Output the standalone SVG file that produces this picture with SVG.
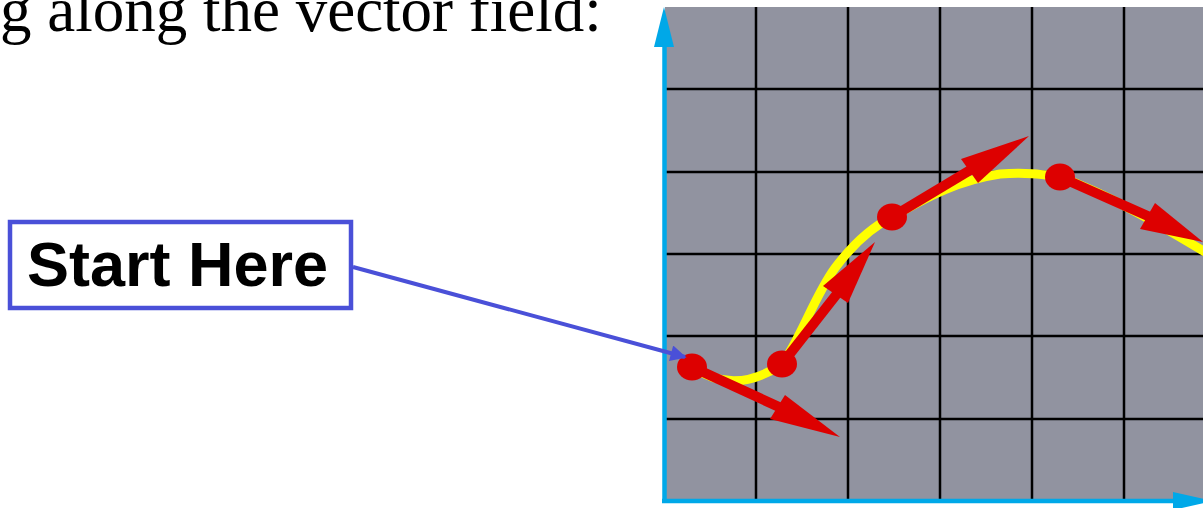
<svg xmlns="http://www.w3.org/2000/svg" width="1203" height="508" viewBox="0 0 1203 508">
<style>
.title{font-family:"Liberation Serif","Times New Roman",serif;font-size:63px;fill:#000}
.lbl{font-family:"Liberation Sans",Arial,sans-serif;font-weight:bold;font-size:63px;fill:#000}
.grid{stroke:#000;stroke-width:2.5;fill:none}
.axis{stroke:#00a8e8;stroke-width:4.5;fill:none}
.axhead{fill:#00a8e8}
.shaft{stroke:#dd0000;stroke-width:10;fill:none}
.head{fill:#dd0000}
.dot{fill:#dd0000}
.path{stroke:#ffff00;stroke-width:9;fill:none}
.box{fill:#fff;stroke:#4a50d8;stroke-width:4.5}
.conn{stroke:#4a50d8;stroke-width:4;fill:none}
</style>
<defs>
<marker id="bh" viewBox="0 0 10 10" refX="9" refY="5" markerWidth="4.5" markerHeight="4" markerUnits="strokeWidth" orient="auto">
<path d="M0,0 L10,5 L0,10 z" fill="#4a50d8"/>
</marker>
</defs>
<rect width="1203" height="508" fill="#fff"/>
<text class="title" x="0" y="31">g along the vector field:</text>
<g id="chart">
<rect x="665" y="7" width="545" height="494" fill="#9193a0"/>
<g class="grid">
<line x1="756" y1="7" x2="756" y2="501"/>
<line x1="848" y1="7" x2="848" y2="501"/>
<line x1="940" y1="7" x2="940" y2="501"/>
<line x1="1032" y1="7" x2="1032" y2="501"/>
<line x1="1124" y1="7" x2="1124" y2="501"/>
<line x1="665" y1="89" x2="1210" y2="89"/>
<line x1="665" y1="172" x2="1210" y2="172"/>
<line x1="665" y1="254" x2="1210" y2="254"/>
<line x1="665" y1="336" x2="1210" y2="336"/>
<line x1="665" y1="419" x2="1210" y2="419"/>
</g>
<line class="axis" x1="664.5" y1="40" x2="664.5" y2="503"/>
<line class="axis" x1="662" y1="501" x2="1180" y2="501"/>
<polygon class="axhead" points="664,7 654,47 674,47"/>
<polygon class="axhead" points="1213,501 1173,492 1173,510"/>
<path class="path" d="M692,367 Q735,396 782,364 C800,340 815,295 835,268 C850,248 870,228 892,217 C930,195 960,180 1000,174 C1030,172 1045,175 1060,177 C1110,195 1160,225 1210,255"/>
</g>
<g id="vec1">
<line class="shaft" x1="692" y1="367" x2="790" y2="412"/>
<polygon class="head" points="840,437 785,395 770,419"/>
<ellipse class="dot" cx="692" cy="367" rx="15" ry="13.5"/>
</g>
<g id="vec2">
<line class="shaft" x1="782" y1="364" x2="840" y2="290"/>
<polygon class="head" points="875,242 823,286 848,303"/>
<ellipse class="dot" cx="782" cy="364" rx="15" ry="13.5"/>
</g>
<g id="vec3">
<line class="shaft" x1="892" y1="217" x2="972" y2="169"/>
<polygon class="head" points="1029,136 961,159 978,183"/>
<ellipse class="dot" cx="892" cy="217" rx="15" ry="13.5"/>
</g>
<g id="vec4">
<line class="shaft" x1="1060" y1="177" x2="1150" y2="217"/>
<polygon class="head" points="1203,242 1155,203 1140,229"/>
<ellipse class="dot" cx="1060" cy="177" rx="15" ry="13.5"/>
</g>
<g id="start-here">
<rect class="box" x="10" y="222" width="341" height="86"/>
<text class="lbl" x="27" y="286">Start Here</text>
</g>
<g id="connectors">
<line class="conn" x1="353" y1="267" x2="685" y2="357" marker-end="url(#bh)"/>
</g>
</svg>
